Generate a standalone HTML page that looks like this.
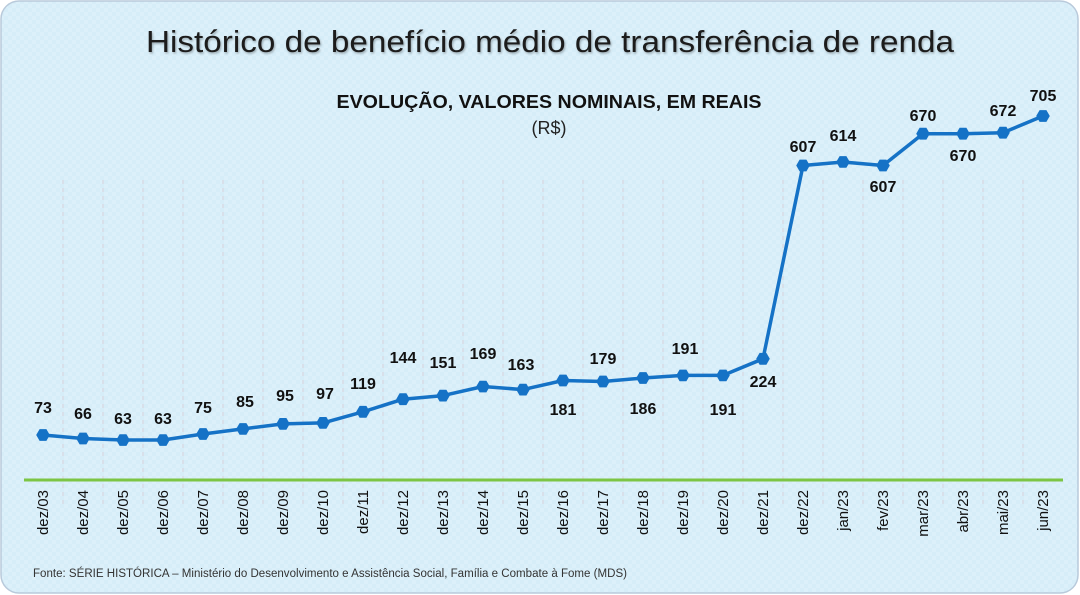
<!DOCTYPE html>
<html><head><meta charset="utf-8"><style>
html,body{margin:0;padding:0;background:#fff;width:1080px;height:595px;overflow:hidden}
svg{display:block}
text{font-family:"Liberation Sans",sans-serif}
</style></head><body>
<svg width="1080" height="595" viewBox="0 0 1080 595" xmlns="http://www.w3.org/2000/svg">
<defs>
<pattern id="pt" width="8" height="8" patternUnits="userSpaceOnUse">
<rect width="8" height="8" fill="#d6edf8"/>
<rect width="4" height="4" fill="#dcf0fa"/>
<rect x="4" y="4" width="4" height="4" fill="#dcf0fa"/>
</pattern>
<filter id="sh" x="-5%" y="-30%" width="110%" height="160%"><feDropShadow dx="1" dy="1.5" stdDeviation="1" flood-color="#000" flood-opacity="0.3"/></filter>
</defs>
<rect x="1" y="1" width="1077" height="592" rx="18" ry="18" fill="url(#pt)" stroke="#b9cadb" stroke-width="1.5"/>
<text x="550" y="52" text-anchor="middle" font-size="31" fill="#1a1a1a" filter="url(#sh)" textLength="808" lengthAdjust="spacingAndGlyphs">Histórico de benefício médio de transferência de renda</text>
<text x="549" y="108" text-anchor="middle" font-size="18" font-weight="bold" fill="#111" textLength="425" lengthAdjust="spacingAndGlyphs">EVOLUÇÃO, VALORES NOMINAIS, EM REAIS</text>
<text x="549" y="134" text-anchor="middle" font-size="18" fill="#222">(R$)</text>
<g stroke="#d3d0da" stroke-width="1" stroke-dasharray="4,4" id="grid"></g>
<line x1="24" y1="480" x2="1063" y2="480" stroke="#7cc544" stroke-width="3"/>
<g id="series"></g>
<g id="labels" font-size="16" font-weight="bold" fill="#111" text-anchor="middle"></g>
<g id="ticks" font-size="15" fill="#111" text-anchor="end"></g>
<text x="33" y="577" font-size="11.5" fill="#333" textLength="594" lengthAdjust="spacingAndGlyphs">Fonte: SÉRIE HISTÓRICA – Ministério do Desenvolvimento e Assistência Social, Família e Combate à Fome (MDS)</text>
</svg>
<script>
var ns="http://www.w3.org/2000/svg";
var vals=[73,66,63,63,75,85,95,97,119,144,151,169,163,181,179,186,191,191,224,607,614,607,670,670,672,705];
var cats=["dez/03","dez/04","dez/05","dez/06","dez/07","dez/08","dez/09","dez/10","dez/11","dez/12","dez/13","dez/14","dez/15","dez/16","dez/17","dez/18","dez/19","dez/20","dez/21","dez/22","jan/23","fev/23","mar/23","abr/23","mai/23","jun/23"];
var lab=[[43,413],[83,419],[123,424],[163,424],[203,413],[245,407],[285,401],[325,399],[363,389],[403,363],[443,368],[483,359],[521,370],[563,415],[603,364],[643,414],[685,354],[723,415],[763,387],[803,152],[843,141],[883,192],[923,121],[963,161],[1003,116],[1043,101]];
function X(i){return 43+i*40;}
function Y(v){return 435-(v-73)*0.5047;}
var g=document.getElementById("grid");
for(var i=0;i<25;i++){var l=document.createElementNS(ns,"line");var x=X(i)+20;l.setAttribute("x1",x);l.setAttribute("x2",x);l.setAttribute("y1",180);l.setAttribute("y2",505);g.appendChild(l);}
var s=document.getElementById("series");
var pts=vals.map(function(v,i){return X(i)+","+Y(v).toFixed(1)}).join(" ");
var pl=document.createElementNS(ns,"polyline");pl.setAttribute("points",pts);pl.setAttribute("fill","none");pl.setAttribute("stroke","#1572c6");pl.setAttribute("stroke-width","3.5");pl.setAttribute("stroke-linejoin","round");s.appendChild(pl);
vals.forEach(function(v,i){var cx=X(i),cy=Y(v),r=6.8,p=[];for(var k=0;k<6;k++){var a=k*Math.PI/3;p.push((cx+r*Math.cos(a)).toFixed(1)+","+(cy+r*Math.sin(a)).toFixed(1));}var pg=document.createElementNS(ns,"polygon");pg.setAttribute("points",p.join(" "));pg.setAttribute("fill","#1572c6");s.appendChild(pg);});
var lg=document.getElementById("labels");
vals.forEach(function(v,i){var t=document.createElementNS(ns,"text");t.setAttribute("x",lab[i][0]);t.setAttribute("y",lab[i][1]);t.textContent=v;lg.appendChild(t);});
var tg=document.getElementById("ticks");
cats.forEach(function(c,i){var t=document.createElementNS(ns,"text");var x=X(i)+5,y=490;t.setAttribute("x",x);t.setAttribute("y",y);t.setAttribute("transform","rotate(-90 "+x+" "+y+")");t.textContent=c;tg.appendChild(t);});
</script>
</body></html>
